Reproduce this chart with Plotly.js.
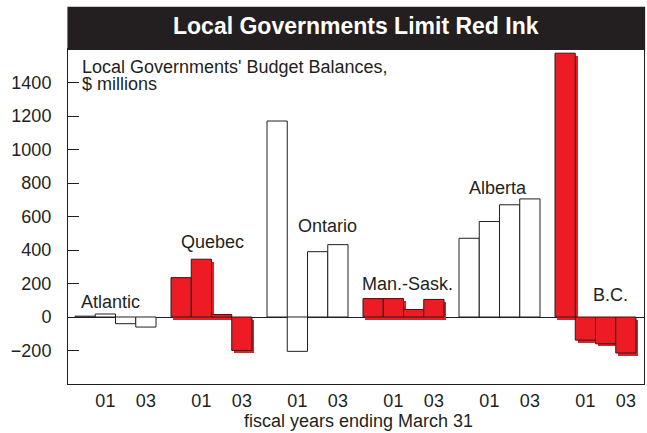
<!DOCTYPE html>
<html><head><meta charset="utf-8">
<script src="https://cdn.plot.ly/plotly-3.0.1.min.js"></script>
<style>html,body{margin:0;padding:0;background:#fff}#chart{width:647px;height:433px}</style>
</head><body><div id="chart"></div>
<script>
// ---- data ----
const regions = ["Atlantic", "Quebec", "Ontario", "Man.-Sask.", "Alberta", "B.C."];
const years = ["00", "01", "02", "03"];
const yearTickLabels = ["", "01", "", "03"];
const atlantic = [5, 18, -40, -60];
const quebec = [235, 345, 15, -200];
const ontario = [1170, -205, 390, 432];
const manSask = [110, 110, 45, 105];
const alberta = [470, 570, 670, 705];
const bc = [1575, -138, -160, -215];
const seriesByRegion = [atlantic, quebec, ontario, manSask, alberta, bc];
const redRegions = ["Quebec", "Man.-Sask.", "B.C."];
const yTickVals = [-200, 0, 200, 400, 600, 800, 1000, 1200, 1400];

// ---- styling ----
const INK = "#231f20", RED = "#ed1c24";
const GROUP_GAP = 0.741;            // gap between groups, in bar widths
const FONT = "Liberation Sans, Arial, sans-serif";
const SHADOW_DX = 0.12, SHADOW_DY = 15;

const xs = [], ys = [], fills = [], shadowY = [], tickv = [], tickt = [];
regions.forEach((r, g) => {
  const isRed = redRegions.includes(r);
  years.forEach((yr, i) => {
    const x = g * (years.length + GROUP_GAP) + i;
    const v = seriesByRegion[g][i];
    xs.push(x); ys.push(v);
    fills.push(isRed ? RED : "#ffffff");
    shadowY.push(isRed ? v : null);
    if (yearTickLabels[i]) { tickv.push(x); tickt.push(yearTickLabels[i]); }
  });
});

const shadow = {
  type: "bar", x: xs, y: shadowY, base: -SHADOW_DY, width: 1, offset: -0.5 + SHADOW_DX,
  marker: {color: RED, line: {width: 0}}, hoverinfo: "skip", showlegend: false
};
const bars = {
  type: "bar", x: xs, y: ys, width: 1, offset: -0.5,
  marker: {color: fills, line: {color: INK, width: 1}}, showlegend: false
};

// label anchor positions (data coords)
const labelPos = [
  {x: -0.30, y: 91, xanchor: "left"},
  {x: 6.31, y: 448, xanchor: "center"},
  {x: 11.99, y: 543, xanchor: "center"},
  {x: 15.94, y: 198, xanchor: "center"},
  {x: 20.39, y: 770, xanchor: "center"},
  {x: 25.97, y: 133, xanchor: "center"}
];
const annotations = regions.map((r, k) => ({
  text: r, x: labelPos[k].x, y: labelPos[k].y, xref: "x", yref: "y",
  xanchor: labelPos[k].xanchor, yanchor: "middle", showarrow: false,
  font: {family: FONT, size: 18, color: INK}
}));
annotations.push(
  {text: "Local Governments' Budget Balances,", xref: "paper", yref: "paper", x: 0.0208, y: 0.946,
   xanchor: "left", yanchor: "middle", showarrow: false, font: {family: FONT, size: 18, color: INK}},
  {text: "$ millions", xref: "paper", yref: "paper", x: 0.0208, y: 0.8955,
   xanchor: "left", yanchor: "middle", showarrow: false, font: {family: FONT, size: 18, color: INK}},
  {text: "fiscal years ending March 31", xref: "paper", yref: "paper", x: 0.505, y: -0.11,
   xanchor: "center", yanchor: "middle", showarrow: false, font: {family: FONT, size: 18, color: INK}},
  {text: "Local Governments Limit Red Ink", xref: "paper", yref: "paper", x: 0.5, y: 1.0687,
   xanchor: "center", yanchor: "middle", showarrow: false,
   font: {family: FONT, size: 23, color: "#ffffff", weight: "bold"}}
);

const layout = {
  width: 647, height: 433,
  margin: {l: 68, r: 3, t: 49, b: 49, pad: 0},
  paper_bgcolor: "#ffffff", plot_bgcolor: "#ffffff",
  barmode: "overlay", bargap: 0,
  font: {family: FONT, size: 18, color: INK},
  xaxis: {
    range: [-0.846, 27.6], showgrid: false, zeroline: false,
    showline: true, mirror: true, linecolor: INK, linewidth: 1,
    tickmode: "array", tickvals: tickv, ticktext: tickt, ticks: "",
    ticklabelstandoff: 0, tickfont: {family: FONT, size: 18, color: INK}
  },
  yaxis: {
    range: [-400, 1600], showgrid: false,
    zeroline: true, zerolinecolor: INK, zerolinewidth: 1,
    showline: true, mirror: true, linecolor: INK, linewidth: 1,
    tickmode: "array", tickvals: yTickVals, ticks: "inside", ticklen: 11,
    tickcolor: INK, tickwidth: 1, ticklabelstandoff: 12,
    tickfont: {family: FONT, size: 18, color: INK}
  },
  shapes: [{
    type: "rect", xref: "paper", yref: "paper", x0: -0.001, x1: 1.002, y0: 0.997, y1: 1.1263,
    fillcolor: INK, line: {width: 0}, layer: "above"
  }],
  annotations: annotations
};

Plotly.newPlot("chart", [shadow, bars], layout, {staticPlot: true, displayModeBar: false});
</script></body></html>
